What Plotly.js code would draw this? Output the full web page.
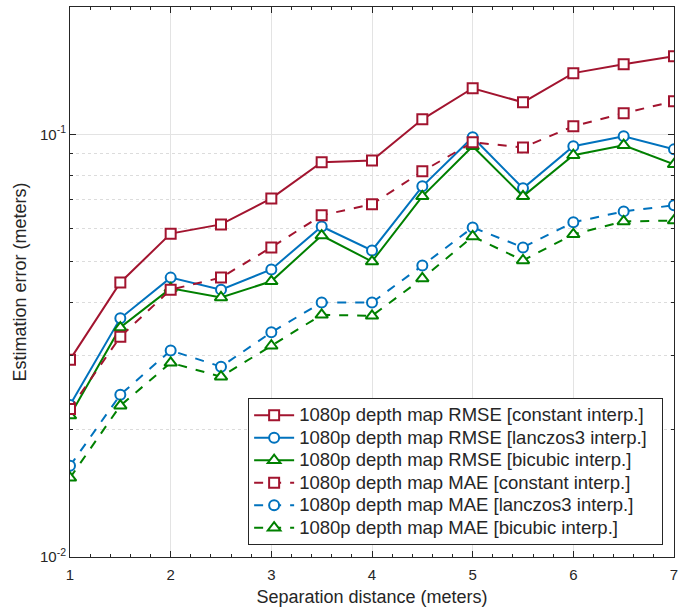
<!DOCTYPE html>
<html>
<head>
<meta charset="utf-8">
<script src="https://cdn.plot.ly/plotly-3.0.1.min.js"></script>
<style>html,body{margin:0;padding:0;background:#fff;}#chart{width:678px;height:608px;}</style>
</head>
<body>
<div id="chart"></div>
<script>
const distances = [1, 1.5, 2, 2.5, 3, 3.5, 4, 4.5, 5, 5.5, 6, 6.5, 7];
const rmseConstant = [0.0293, 0.0446, 0.0582, 0.0612, 0.0705, 0.0859, 0.0867, 0.1085, 0.1285, 0.119, 0.1395, 0.1465, 0.153];
const rmseLanczos3 = [0.0229, 0.0367, 0.0458, 0.0429, 0.0479, 0.0605, 0.0531, 0.0753, 0.0984, 0.0745, 0.0937, 0.0989, 0.0921];
const rmseBicubic = [0.0216, 0.0349, 0.0432, 0.0411, 0.0449, 0.0576, 0.0500, 0.0713, 0.0937, 0.0713, 0.0892, 0.0942, 0.0849];
const maeConstant = [0.0224, 0.0332, 0.0429, 0.0458, 0.0540, 0.0643, 0.0683, 0.0817, 0.0957, 0.0931, 0.1044, 0.1121, 0.1197];
const maeLanczos3 = [0.01643, 0.0242, 0.0308, 0.0282, 0.0340, 0.0400, 0.0400, 0.0489, 0.0602, 0.0540, 0.0619, 0.0657, 0.0679];
const maeBicubic = [0.01539, 0.0228, 0.0288, 0.0267, 0.0316, 0.0374, 0.0372, 0.0456, 0.0573, 0.0503, 0.0580, 0.0622, 0.0625];
const seriesNames = [
  '1080p depth map RMSE [constant interp.]',
  '1080p depth map RMSE [lanczos3 interp.]',
  '1080p depth map RMSE [bicubic interp.]',
  '1080p depth map MAE [constant interp.]',
  '1080p depth map MAE [lanczos3 interp.]',
  '1080p depth map MAE [bicubic interp.]'
];
const yTickVals = [0.01, 0.1];
const yTickText = ['10<sup>-2</sup>', '10<sup>-1</sup>'];

const RED = '#A2142F', BLUE = '#0072BD', GREEN = '#008000';
function tr(y, name, color, symbol, dash) {
  return {
    x: distances, y: y, type: 'scatter', mode: 'lines+markers',
    name: '<span style="font-size:18.5px">' + name + '\u00a0\u00a0</span>',
    line: {color: color, width: 2, dash: dash},
    marker: {symbol: symbol, size: symbol === 'triangle-up' ? 11 : 10, color: 'rgba(255,255,255,1)', line: {color: color, width: 2}}
  };
}
const data = [
  tr(rmseConstant, seriesNames[0], RED, 'square', 'solid'),
  tr(rmseLanczos3, seriesNames[1], BLUE, 'circle', 'solid'),
  tr(rmseBicubic, seriesNames[2], GREEN, 'triangle-up', 'solid'),
  tr(maeConstant, seriesNames[3], RED, 'square', 'dash'),
  tr(maeLanczos3, seriesNames[4], BLUE, 'circle', 'dash'),
  tr(maeBicubic, seriesNames[5], GREEN, 'triangle-up', 'dash')
];
const font = {family: 'Liberation Sans, Arial, sans-serif', color: '#262626'};
const layout = {
  width: 678, height: 608,
  margin: {l: 70, r: 4, t: 7, b: 51},
  paper_bgcolor: '#fff', plot_bgcolor: '#fff',
  font: Object.assign({size: 15}, font),
  showlegend: true,
  legend: {
    x: 0.982, y: 0.022, xanchor: 'right', yanchor: 'bottom',
    bgcolor: '#fff', bordercolor: '#262626', borderwidth: 1,
    font: Object.assign({size: 15}, font),
    tracegroupgap: 0, itemwidth: 40
  },
  xaxis: {
    range: [1, 7], dtick: 1, tick0: 1,
    showline: true, mirror: 'ticks', linecolor: '#262626', linewidth: 1,
    ticks: 'inside', ticklen: 6, tickcolor: '#262626',
    showgrid: true, gridcolor: '#e3e3e3', gridwidth: 1,
    zeroline: false, ticklabeloverflow: 'allow', ticklabelstandoff: 4,
    tickfont: Object.assign({size: 15}, font),
    minor: {dtick: 0.2, tick0: 1, ticks: 'inside', ticklen: 3, tickcolor: '#262626', showgrid: false},
    title: {text: 'Separation distance (meters)', font: Object.assign({size: 18}, font), standoff: 8}
  },
  yaxis: {
    type: 'log', range: [-2, Math.log10(0.2)],
    tickmode: 'array', tickvals: yTickVals, ticktext: yTickText,
    showline: true, mirror: 'ticks', linecolor: '#262626', linewidth: 1,
    ticks: 'inside', ticklen: 6, tickcolor: '#262626',
    showgrid: true, gridcolor: '#e3e3e3', gridwidth: 1,
    zeroline: false, ticklabeloverflow: 'allow',
    tickfont: Object.assign({size: 15}, font),
    minor: {dtick: 'D1', ticks: 'inside', ticklen: 3, tickcolor: '#262626', showgrid: true, gridcolor: '#dcdcdc', griddash: 'dot', gridwidth: 1},
    title: {text: 'Estimation error (meters)', font: Object.assign({size: 18}, font), standoff: 8}
  }
};
Plotly.newPlot('chart', data, layout, {displayModeBar: false, staticPlot: true});
</script>
</body>
</html>
